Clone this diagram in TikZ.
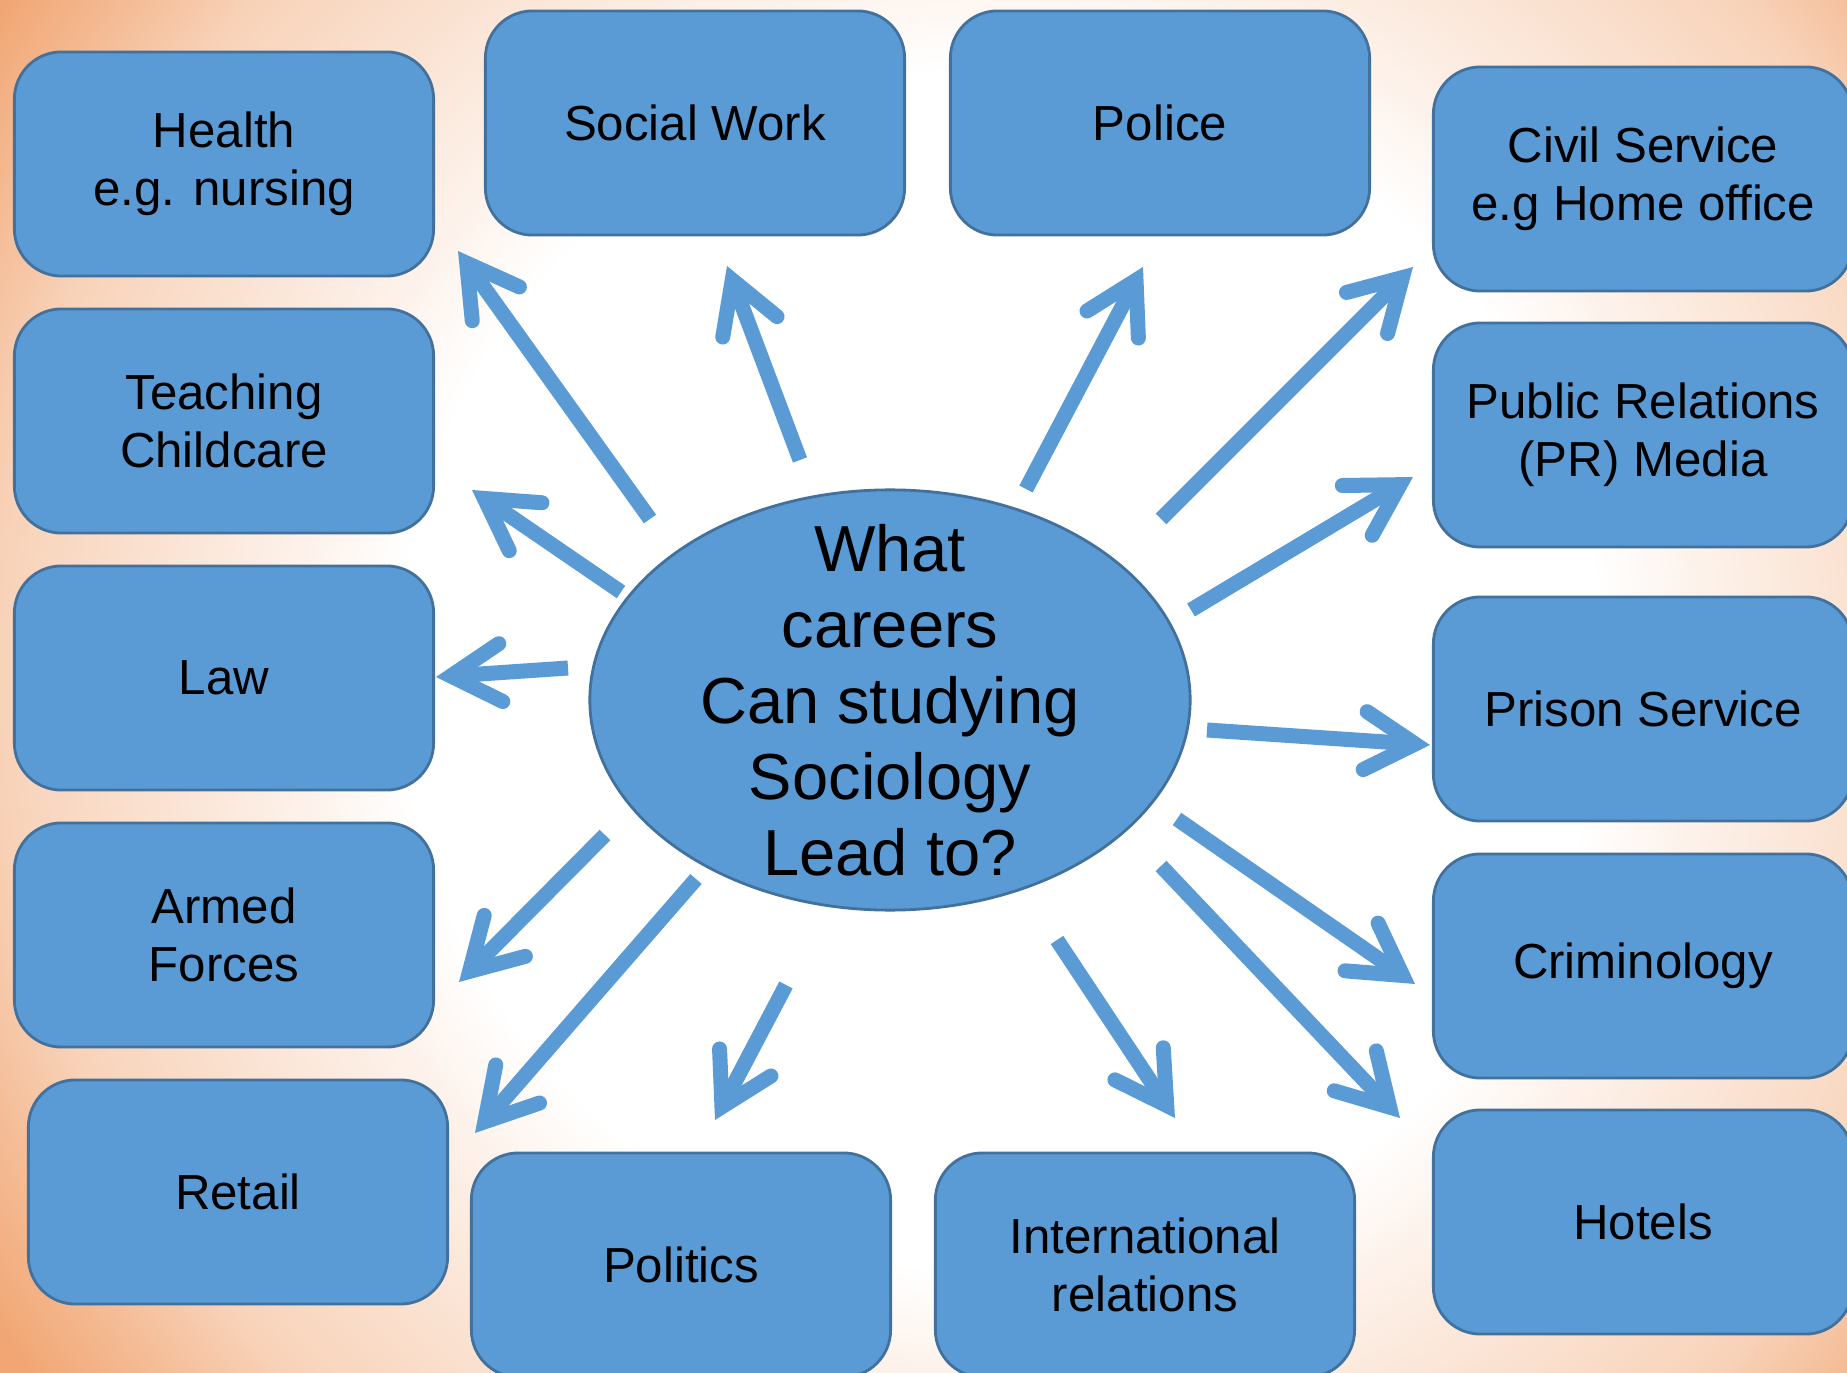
\documentclass[tikz,border=0pt]{standalone}
\usepackage{fontspec}
\setmainfont{Liberation Sans}
\usetikzlibrary{arrows.meta,shapes.geometric}
\definecolor{boxblue}{HTML}{5B9BD5}
\definecolor{boxedge}{HTML}{41719C}
\definecolor{bgorange}{RGB}{241,166,115}
\colorlet{bgA}{bgorange!14!white}
\colorlet{bgB}{bgorange!50!white}
\colorlet{bgC}{bgorange!76!white}
\pgfdeclareradialshading{bgrad}{\pgfpoint{0bp}{0bp}}{color(0bp)=(white); color(12.5bp)=(white); color(14.6bp)=(bgA); color(20.8bp)=(bgB); color(22.9bp)=(bgC); color(25bp)=(bgorange); color(50bp)=(bgorange)}
\begin{document}
\begin{tikzpicture}[x=0.01cm, y=-0.01cm,
  career/.style={rectangle, rounded corners=0.47cm, fill=boxblue, draw=boxedge, line width=0.8pt,
    minimum width=4.19cm, minimum height=2.24cm, align=center, text=black, inner sep=0pt,
    font=\fontsize{14}{16.6}\selectfont},
  hub/.style={ellipse, fill=boxblue, draw=boxedge, line width=0.8pt, minimum width=6cm,
    minimum height=4.2cm, inner sep=0pt},
  hubtext/.style={align=center, text=black, inner sep=0pt, font=\fontsize{18.5}{21.6}\selectfont},
  arr/.style={draw=boxblue, line width=0.15cm,
    -{Straight Barb[length=0.5cm, width=0.58cm, line cap=round, line join=miter]}}
]
\useasboundingbox (0,0) rectangle (1847,1373);
\begin{scope}
\clip (0,0) rectangle (1847,1373);
\fill[bgorange] (0,0) rectangle (1847,1373);
\shade[shading=bgrad] (1000,670) circle [radius=12cm];

% left column
\node[career] (health) at (224,164) {Health\\e.g. nursing};
\node[career] (teach) at (224,421) {Teaching\\Childcare};
\node[career] (law) at (224,678) {Law};
\node[career] (armed) at (224,935) {Armed\\Forces};
\node[career] (retail) at (238,1192) {Retail};
% top
\node[career] (social) at (695,123) {Social Work};
\node[career] (police) at (1160,123) {Police};
% right column
\node[career] (civil) at (1643,179) {Civil Service\\e.g Home office};
\node[career] (pr) at (1643,435) {Public Relations\\(PR) Media};
\node[career] (prison) at (1643,709) {Prison Service};
\node[career] (crim) at (1643,966) {Criminology};
\node[career] (hotels) at (1643,1222) {Hotels};
% bottom
\node[career] (politics) at (681,1265) {Politics};
\node[career] (intl) at (1145,1265) {International\\relations};

% centre
\node[hub] (hub) at (890,700) {};
\node[hubtext] (hubtxt) at (hub.center) {What\\careers\\Can studying\\Sociology\\Lead to?};

% arrow ends
\coordinate (s1) at (650,519);  \coordinate (e1) at (458,251);
\coordinate (s2) at (800,460);  \coordinate (e2) at (727,266);
\coordinate (s3) at (1026,489); \coordinate (e3) at (1143,267);
\coordinate (s4) at (1161,519); \coordinate (e4) at (1413,267);
\coordinate (s5) at (1191,610); \coordinate (e5) at (1413,477);
\coordinate (s6) at (1207,730); \coordinate (e6) at (1430,745);
\coordinate (s7) at (1177,819); \coordinate (e7) at (1415,984);
\coordinate (s8) at (1161,866); \coordinate (e8) at (1400,1118);
\coordinate (s9) at (1057,940); \coordinate (e9) at (1175,1118);
\coordinate (s10) at (786,985); \coordinate (e10) at (715,1120);
\coordinate (s11) at (696,879); \coordinate (e11) at (475,1133);
\coordinate (s12) at (605,835); \coordinate (e12) at (459,982);
\coordinate (s13) at (568,668); \coordinate (e13) at (436,677);
\coordinate (s14) at (621,592); \coordinate (e14) at (472,490);

\foreach \i in {1,...,14} { \draw[arr] (s\i) -- (e\i); }
\end{scope}
\end{tikzpicture}
\end{document}
